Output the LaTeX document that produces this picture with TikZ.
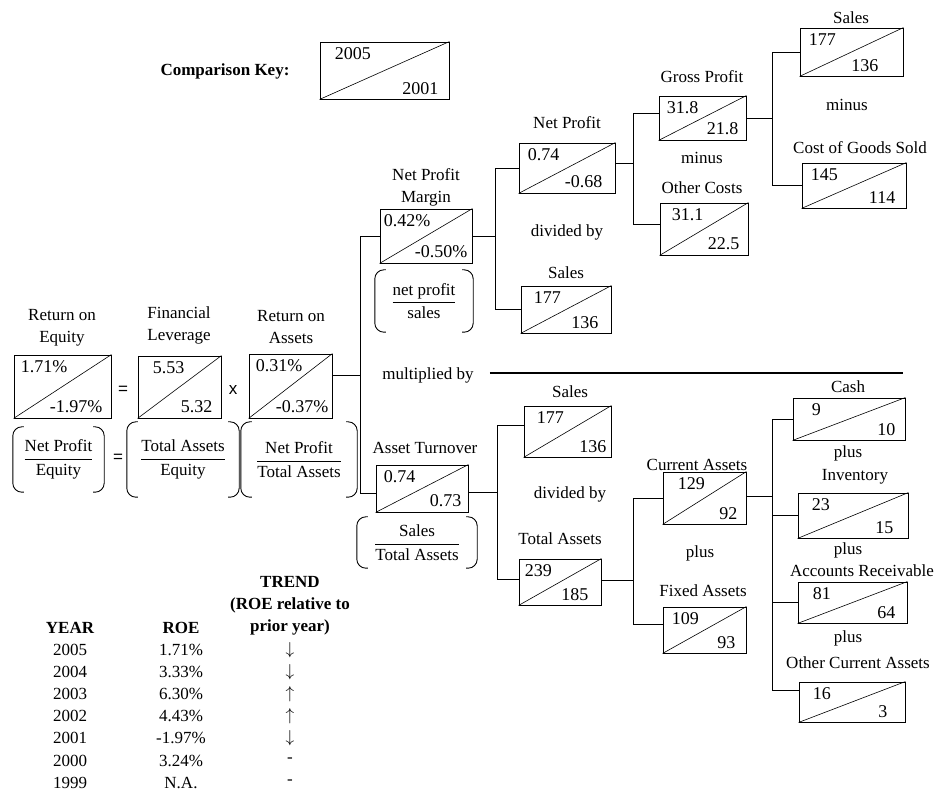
\documentclass[tikz,border=0pt]{standalone}
\usepackage{amsmath}
\usepackage{fontspec}
\setmainfont{Liberation Serif}
\newfontfamily\opfont{Liberation Sans}
\newcommand{\figfont}{\fontsize{17}{22}\selectfont}

\tikzset{
  valbox/.style={draw, rectangle, line width=0.9pt, inner sep=0pt},
  diag/.style={line width=0.6pt},
  topval/.style={anchor=north west, inner sep=0pt, yshift=-6pt, font=\fontsize{18}{22}\selectfont},
  botval/.style={anchor=south east, inner sep=0pt, yshift=5pt, font=\fontsize{18}{22}\selectfont},
  lbl/.style={align=center, inner sep=0pt},
  hdr/.style={font=\figfont\bfseries},
  op/.style={font=\fontsize{17}{20}\selectfont\opfont},
  paren/.style={line width=0.9pt, rounded corners=9pt},
  link/.style={line width=0.8pt},
  sepline/.style={line width=1.3pt},
}

% ratio box: name, centre, width, height, upper value, lower value, insets
\newcommand{\valbox}[8]{%
  \node[valbox, minimum width=#3, minimum height=#4] (#1) at #2 {};
  \draw[diag] (#1.south west) -- (#1.north east);
  \node[topval] (#1-up) at ([xshift=#7]#1.north west) {#5};
  \node[botval] (#1-lo) at ([xshift=-#8]#1.south east) {#6};
}
% formula in round brackets: name, centre, width, height, formula
\newcommand{\fracbox}[5]{%
  \node[inner sep=0pt, minimum width=#3, minimum height=#4] (#1) at #2 {#5};
  \draw[paren] ([xshift=11pt]#1.north west) -- (#1.north west) -- (#1.south west) -- ([xshift=11pt]#1.south west);
  \draw[paren] ([xshift=-11pt]#1.north east) -- (#1.north east) -- (#1.south east) -- ([xshift=-11pt]#1.south east);
}

\begin{document}
\begin{tikzpicture}[x=1pt, y=-1pt, font=\figfont]
	\useasboundingbox (0,0) rectangle (938,791);

	% key
	\node[lbl, hdr] (key-l) at (225,71) {Comparison Key:};
	\valbox{key}{(384.5,70.5)}{129pt}{57pt}{2005}{2001}{15pt}{11pt}

	% return on equity = leverage x return on assets
	\node[lbl] (roe-l) at (62,328) {Return on\\Equity};
	\node[lbl] (fl-l) at (179,325) {Financial\\Leverage};
	\node[lbl] (roa-l) at (291,327) {Return on\\Assets};
	\valbox{roe}{(62.5,386.5)}{97pt}{63pt}{1.71\%}{-1.97\%}{7pt}{9pt}
	\valbox{fl}{(179.5,387)}{83pt}{62pt}{5.53}{5.32}{15pt}{9pt}
	\valbox{roa}{(290.5,386)}{83pt}{64pt}{0.31\%}{-0.37\%}{7pt}{4pt}
	\node[op] (eq1) at (123,390) {=};
	\node[op] (times1) at (233,390) {x};
	\fracbox{roe-f}{(58.5,459.5)}{91pt}{65pt}{$\dfrac{\text{Net Profit}}{\text{Equity}}$}
	\fracbox{fl-f}{(183,459.5)}{112pt}{75pt}{$\dfrac{\text{Total Assets}}{\text{Equity}}$}
	\fracbox{roa-f}{(299,459.5)}{116pt}{75pt}{$\dfrac{\text{Net Profit}}{\text{Total Assets}}$}
	\node[op] (eq2) at (118,458) {=};

	% net profit margin branch
	\node[lbl] (npm-l) at (426,187) {Net Profit\\Margin};
	\valbox{npm}{(426,236)}{92pt}{54pt}{0.42\%}{-0.50\%}{4pt}{5pt}
	\fracbox{npm-f}{(424,301)}{98pt}{62pt}{$\dfrac{\text{net profit}}{\text{sales}}$}
	\node[lbl] (np-l) at (567,123) {Net Profit};
	\valbox{np}{(567,168)}{96pt}{50pt}{0.74}{-0.68}{9pt}{13pt}
	\node[lbl] (div1) at (567,232) {divided by};
	\node[lbl] (sl1-l) at (566,273) {Sales};
	\valbox{sl1}{(566,309.5)}{90pt}{47pt}{177}{136}{13pt}{13pt}
	\node[lbl] (gp-l) at (702,77) {Gross Profit};
	\valbox{gp}{(702.5,118)}{87pt}{44pt}{31.8}{21.8}{8pt}{8pt}
	\node[lbl] (minus1) at (702,158) {minus};
	\node[lbl] (oc-l) at (702,188) {Other Costs};
	\valbox{oc}{(704,229)}{88pt}{52pt}{31.1}{22.5}{12pt}{9pt}
	\node[lbl] (sl0-l) at (851,18) {Sales};
	\valbox{sl0}{(851.5,52)}{103pt}{48pt}{177}{136}{9pt}{25pt}
	\node[lbl] (minus2) at (847,105) {minus};
	\node[lbl] (cogs-l) at (860,148) {Cost of Goods Sold};
	\valbox{cogs}{(854,185.5)}{104pt}{45pt}{145}{114}{9pt}{11pt}

	% separator
	\node[lbl] (mult) at (428,375) {multiplied by};
	\coordinate (sepend) at (903,373);
	\draw[sepline] ([xshift=16pt]mult.east |- sepend) -- (sepend);

	% asset turnover branch
	\node[lbl] (at-l) at (425,448) {Asset Turnover};
	\valbox{at}{(422,488.5)}{92pt}{47pt}{0.74}{0.73}{8pt}{7pt}
	\fracbox{at-f}{(417,542.5)}{120pt}{51pt}{$\dfrac{\text{Sales}}{\text{Total Assets}}$}
	\node[lbl] (sl2-l) at (570,392) {Sales};
	\valbox{sl2}{(567.5,431.5)}{87pt}{51pt}{177}{136}{13pt}{5pt}
	\node[lbl] (div2) at (570,494) {divided by};
	\node[lbl] (ta-l) at (560,539) {Total Assets};
	\valbox{ta}{(560,582)}{82pt}{46pt}{239}{185}{6pt}{13pt}
	\node[lbl] (ca-l) at (697,465) {Current Assets};
	\valbox{ca}{(704.5,498)}{83pt}{52pt}{129}{92}{15pt}{9pt}
	\node[lbl] (plus1) at (700,553) {plus};
	\node[lbl] (fa-l) at (703,591) {Fixed Assets};
	\valbox{fa}{(704.5,630)}{83pt}{46pt}{109}{93}{9pt}{11pt}
	\node[lbl] (cash-l) at (848,387) {Cash};
	\valbox{cash}{(849,419)}{112pt}{42pt}{9}{10}{19pt}{10pt}
	\node[lbl] (plus2) at (848,453) {plus};
	\node[lbl] (inv-l) at (855,477) {Inventory};
	\valbox{inv}{(853,515.5)}{110pt}{45pt}{23}{15}{14pt}{15pt}
	\node[lbl] (plus3) at (848,550) {plus};
	\node[lbl] (ar-l) at (862,571) {Accounts Receivable};
	\valbox{ar}{(852.5,602.5)}{109pt}{41pt}{81}{64}{15pt}{12pt}
	\node[lbl] (plus4) at (848,638) {plus};
	\node[lbl] (oca-l) at (858,663) {Other Current Assets};
	\valbox{oca}{(852,702)}{106pt}{40pt}{16}{3}{14pt}{18pt}

	% tree links
	\draw[link] ([yshift=11pt]roa.east) -- ++(28,0) coordinate (j-roa);
	\draw[link] (npm.west) -| (j-roa) |- ([yshift=-5pt]at.west);
	\draw[link] (npm.east) -- ++(23,0) coordinate (j-npm);
	\draw[link] (np.west) -| (j-npm) |- (sl1.west);
	\draw[link] ([yshift=5pt]np.east) -- ++(18,0) coordinate (j-np);
	\draw[link] ([yshift=5pt]gp.west) -| (j-np) |- ([yshift=5pt]oc.west);
	\draw[link] (gp.east) -- ++(26,0) coordinate (j-gp);
	\draw[link] (sl0.west) -| (j-gp) |- (cogs.west);
	\draw[link] ([yshift=-4pt]at.east) -- ++(29,0) coordinate (j-at);
	\draw[link] ([yshift=6pt]sl2.west) -| (j-at) |- ([yshift=3pt]ta.west);
	\draw[link] ([yshift=2pt]ta.east) -- ++(32,0) coordinate (j-ta);
	\draw[link] (ca.west) -| (j-ta) |- ([yshift=6pt]fa.west);
	\draw[link] ([yshift=2pt]ca.east) -- ++(26,0) coordinate (j-ca);
	\draw[link] (cash.west) -| (j-ca) |- ([yshift=12pt]oca.west);
	\draw[link] (inv.west) -- (inv.west -| j-ca);
	\draw[link] (ar.west) -- (ar.west -| j-ca);

	% ROE history
	\node[lbl, hdr] (trend-h) at (290,606) {TREND\\(ROE relative to\\prior year)};
	\node[lbl, hdr] (year-h) at (70,628) {YEAR};
	\node[lbl, hdr] (roe-h) at (181,628) {ROE};
	\foreach \yr/\val/\tr [count=\i from 0] in {2005/1.71\%/$\downarrow$, 2004/3.33\%/$\downarrow$, 2003/6.30\%/$\uparrow$, 2002/4.43\%/$\uparrow$, 2001/-1.97\%/$\downarrow$, 2000/3.24\%/-, 1999/N.A./-}{
		\node[lbl] (yr-\i) at (70,{650+22.1*\i}) {\yr};
		\node[lbl] (val-\i) at (181,{650+22.1*\i}) {\val};
		\node[lbl] (tr-\i) at (290,{650+22.1*\i}) {\tr};
	}
\end{tikzpicture}
\end{document}
